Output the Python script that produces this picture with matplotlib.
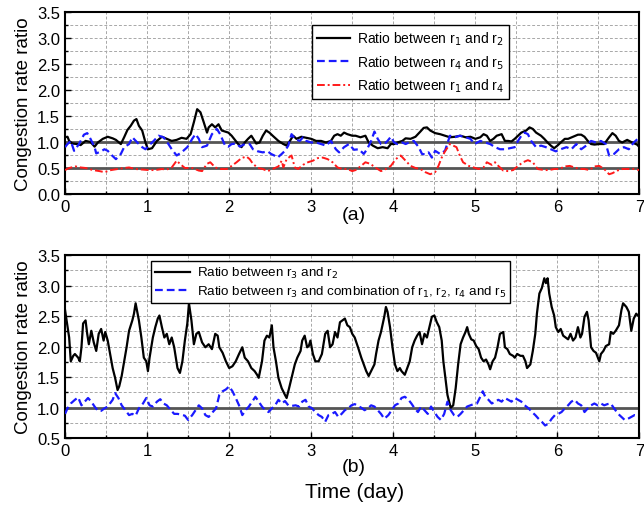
import matplotlib
matplotlib.use("Agg")
import matplotlib.pyplot as plt
from matplotlib.ticker import MultipleLocator

plt.rcParams['font.family'] = ['Liberation Sans', 'DejaVu Sans']

# ---- panel (a) ----
a12_t = [0.00, 0.03, 0.05, 0.09, 0.15, 0.19, 0.25, 0.31, 0.36, 0.40, 0.46, 0.52, 0.58, 0.62, 0.68,
         0.72, 0.76, 0.80, 0.84, 0.87, 0.90, 0.94, 0.98, 1.01, 1.06, 1.12, 1.18, 1.24, 1.30, 1.36,
         1.42, 1.48, 1.53, 1.57, 1.61, 1.65, 1.69, 1.73, 1.75, 1.79, 1.83, 1.87, 1.91, 1.95, 1.99,
         2.03, 2.07, 2.11, 2.15, 2.19, 2.23, 2.27, 2.33, 2.37, 2.41, 2.45, 2.49, 2.53, 2.60, 2.66,
         2.70, 2.74, 2.78, 2.82, 2.88, 2.94, 3.00, 3.06, 3.12, 3.18, 3.24, 3.28, 3.32, 3.36, 3.40,
         3.44, 3.50, 3.54, 3.60, 3.66, 3.70, 3.75, 3.81, 3.87, 3.93, 3.97, 4.01, 4.05, 4.11, 4.15,
         4.21, 4.27, 4.33, 4.37, 4.41, 4.45, 4.51, 4.57, 4.63, 4.69, 4.75, 4.82, 4.88, 4.94, 5.00,
         5.06, 5.10, 5.14, 5.18, 5.22, 5.26, 5.32, 5.36, 5.40, 5.44, 5.48, 5.52, 5.56, 5.62, 5.66,
         5.70, 5.74, 5.80, 5.84, 5.88, 5.92, 5.96, 6.00, 6.04, 6.09, 6.13, 6.19, 6.25, 6.29, 6.33,
         6.37, 6.41, 6.45, 6.51, 6.57, 6.63, 6.67, 6.71, 6.75, 6.79, 6.85, 6.91, 6.97, 7.00]
a12_v = [1.09, 1.10, 1.02, 0.97, 0.96, 0.94, 1.02, 1.00, 0.91, 0.99, 1.06, 1.10, 1.07, 1.04, 0.96,
         1.09, 1.23, 1.31, 1.41, 1.44, 1.31, 1.22, 0.99, 0.86, 0.88, 1.02, 1.10, 1.06, 1.02, 1.04,
         1.08, 1.06, 1.15, 1.38, 1.63, 1.57, 1.38, 1.18, 1.28, 1.34, 1.28, 1.34, 1.22, 1.20, 1.18,
         1.12, 1.04, 0.96, 0.90, 0.99, 1.06, 1.12, 0.97, 0.99, 1.12, 1.22, 1.18, 1.12, 1.02, 0.96,
         0.93, 1.02, 1.12, 1.06, 1.10, 1.08, 1.06, 1.02, 1.02, 0.99, 1.02, 1.12, 1.15, 1.12, 1.18,
         1.15, 1.12, 1.12, 1.09, 1.12, 0.99, 0.93, 0.88, 0.90, 0.88, 0.96, 0.96, 0.99, 1.02, 1.07,
         1.06, 1.10, 1.20, 1.27, 1.28, 1.22, 1.17, 1.15, 1.12, 1.09, 1.10, 1.12, 1.09, 1.10, 1.06,
         1.09, 1.15, 1.12, 1.02, 1.06, 1.12, 1.15, 1.02, 1.02, 1.01, 1.06, 1.12, 1.18, 1.22, 1.28,
         1.25, 1.18, 1.12, 1.06, 0.99, 0.93, 0.88, 0.93, 0.99, 1.06, 1.06, 1.10, 1.14, 1.14, 1.10,
         1.02, 0.96, 0.95, 0.96, 0.96, 1.09, 1.17, 1.12, 1.02, 0.99, 1.04, 0.99, 0.95, 0.90]

a45_t = [0.00, 0.03, 0.07, 0.11, 0.17, 0.23, 0.27, 0.31, 0.36, 0.38, 0.44, 0.48, 0.52, 0.56, 0.62,
         0.68, 0.72, 0.78, 0.82, 0.88, 0.94, 0.98, 1.02, 1.08, 1.14, 1.20, 1.26, 1.30, 1.36, 1.42,
         1.49, 1.55, 1.59, 1.63, 1.67, 1.73, 1.79, 1.85, 1.89, 1.95, 1.99, 2.03, 2.09, 2.13, 2.19,
         2.25, 2.29, 2.35, 2.41, 2.47, 2.51, 2.55, 2.59, 2.64, 2.68, 2.72, 2.76, 2.80, 2.86, 2.90,
         2.94, 3.00, 3.06, 3.12, 3.18, 3.24, 3.30, 3.34, 3.40, 3.46, 3.52, 3.58, 3.64, 3.68, 3.73,
         3.77, 3.81, 3.85, 3.89, 3.93, 3.97, 4.01, 4.05, 4.11, 4.15, 4.19, 4.25, 4.31, 4.35, 4.39,
         4.43, 4.47, 4.51, 4.57, 4.63, 4.69, 4.75, 4.81, 4.88, 4.94, 4.99, 5.06, 5.12, 5.18, 5.24,
         5.30, 5.36, 5.42, 5.48, 5.52, 5.56, 5.60, 5.64, 5.68, 5.74, 5.80, 5.86, 5.92, 5.98, 6.04,
         6.11, 6.17, 6.23, 6.29, 6.35, 6.41, 6.47, 6.53, 6.59, 6.63, 6.69, 6.75, 6.81, 6.87, 6.93,
         7.00]
a45_v = [0.90, 0.96, 1.02, 0.83, 0.96, 1.14, 1.17, 1.06, 0.90, 0.78, 0.82, 0.86, 0.83, 0.76, 0.67,
         0.77, 0.90, 0.96, 1.09, 0.99, 0.90, 0.86, 0.93, 1.02, 1.12, 1.09, 0.96, 0.86, 0.74, 0.80,
         0.90, 1.06, 1.15, 1.06, 0.90, 0.93, 1.15, 1.25, 1.15, 0.93, 0.91, 0.96, 0.97, 0.91, 0.96,
         0.96, 0.86, 0.82, 0.80, 0.82, 0.77, 0.74, 0.70, 0.77, 0.83, 0.93, 1.15, 1.06, 1.02, 1.09,
         1.02, 0.99, 0.99, 0.96, 0.93, 1.02, 0.86, 0.80, 0.90, 0.96, 0.85, 0.86, 0.77, 0.86, 1.02,
         1.20, 1.06, 0.96, 0.96, 1.02, 1.10, 0.99, 0.96, 0.99, 0.96, 0.99, 1.02, 0.90, 0.77, 0.76,
         0.80, 0.70, 0.83, 0.77, 0.83, 1.12, 1.09, 1.12, 1.09, 1.06, 0.96, 1.02, 0.99, 0.96, 0.90,
         0.86, 0.86, 0.88, 0.90, 1.02, 1.12, 1.18, 1.15, 1.02, 0.90, 0.93, 0.90, 0.86, 0.82, 0.86,
         0.90, 0.86, 0.96, 0.86, 0.93, 1.02, 0.99, 1.02, 0.96, 0.74, 0.77, 0.86, 0.90, 0.86, 0.99,
         1.09]

a14_t = [0.00, 0.05, 0.13, 0.19, 0.25, 0.34, 0.42, 0.48, 0.56, 0.64, 0.72, 0.78, 0.86, 0.94, 1.02,
         1.10, 1.18, 1.24, 1.30, 1.36, 1.40, 1.46, 1.55, 1.63, 1.67, 1.73, 1.77, 1.83, 1.89, 1.97,
         2.03, 2.09, 2.15, 2.21, 2.25, 2.29, 2.35, 2.41, 2.47, 2.53, 2.60, 2.64, 2.66, 2.70, 2.76,
         2.80, 2.84, 2.90, 2.96, 3.02, 3.08, 3.14, 3.20, 3.26, 3.32, 3.38, 3.44, 3.50, 3.54, 3.60,
         3.66, 3.72, 3.78, 3.85, 3.91, 3.97, 4.03, 4.09, 4.15, 4.21, 4.27, 4.33, 4.39, 4.45, 4.51,
         4.55, 4.59, 4.63, 4.69, 4.73, 4.77, 4.81, 4.85, 4.92, 4.98, 5.04, 5.10, 5.14, 5.20, 5.24,
         5.28, 5.34, 5.40, 5.46, 5.52, 5.58, 5.64, 5.70, 5.76, 5.84, 5.90, 5.96, 6.02, 6.09, 6.15,
         6.21, 6.27, 6.33, 6.39, 6.45, 6.51, 6.57, 6.63, 6.67, 6.73, 6.79, 6.85, 6.93, 7.00]
a14_v = [0.46, 0.50, 0.53, 0.51, 0.50, 0.46, 0.44, 0.42, 0.46, 0.48, 0.50, 0.51, 0.48, 0.47, 0.46,
         0.46, 0.48, 0.47, 0.51, 0.64, 0.58, 0.50, 0.50, 0.45, 0.44, 0.58, 0.61, 0.51, 0.48, 0.48,
         0.54, 0.61, 0.69, 0.72, 0.67, 0.58, 0.50, 0.48, 0.44, 0.48, 0.53, 0.64, 0.51, 0.67, 0.74,
         0.51, 0.48, 0.56, 0.61, 0.64, 0.69, 0.70, 0.67, 0.61, 0.51, 0.48, 0.48, 0.44, 0.46, 0.53,
         0.61, 0.58, 0.51, 0.44, 0.48, 0.54, 0.67, 0.74, 0.64, 0.54, 0.50, 0.48, 0.42, 0.38, 0.42,
         0.54, 0.70, 0.82, 0.96, 0.93, 0.90, 0.74, 0.61, 0.54, 0.51, 0.48, 0.51, 0.61, 0.56, 0.61,
         0.54, 0.45, 0.44, 0.46, 0.54, 0.61, 0.65, 0.61, 0.48, 0.46, 0.46, 0.48, 0.48, 0.53, 0.54,
         0.51, 0.48, 0.48, 0.46, 0.53, 0.54, 0.48, 0.38, 0.40, 0.45, 0.48, 0.48, 0.48, 0.46]

# ---- panel (b) ----
b32_t = [0.00, 0.01, 0.05, 0.07, 0.10, 0.12, 0.16, 0.18, 0.20, 0.22, 0.25, 0.27, 0.29, 0.32, 0.35,
         0.38, 0.41, 0.44, 0.47, 0.49, 0.52, 0.55, 0.58, 0.61, 0.64, 0.66, 0.69, 0.72, 0.75, 0.78,
         0.82, 0.84, 0.86, 0.90, 0.93, 0.96, 0.99, 1.01, 1.03, 1.07, 1.10, 1.13, 1.15, 1.18, 1.21,
         1.24, 1.27, 1.30, 1.33, 1.37, 1.40, 1.43, 1.46, 1.49, 1.51, 1.54, 1.57, 1.60, 1.63, 1.67,
         1.71, 1.75, 1.79, 1.83, 1.86, 1.88, 1.92, 1.96, 2.00, 2.04, 2.08, 2.12, 2.16, 2.19, 2.23,
         2.27, 2.31, 2.34, 2.36, 2.40, 2.43, 2.46, 2.49, 2.52, 2.54, 2.57, 2.60, 2.64, 2.68, 2.70,
         2.73, 2.76, 2.80, 2.83, 2.87, 2.89, 2.92, 2.95, 2.97, 2.99, 3.02, 3.05, 3.09, 3.13, 3.17,
         3.20, 3.23, 3.26, 3.29, 3.32, 3.35, 3.38, 3.41, 3.44, 3.47, 3.50, 3.53, 3.57, 3.61, 3.64,
         3.67, 3.70, 3.73, 3.77, 3.79, 3.82, 3.85, 3.89, 3.91, 3.93, 3.96, 3.98, 3.99, 4.02, 4.05,
         4.08, 4.10, 4.14, 4.17, 4.20, 4.23, 4.26, 4.29, 4.32, 4.35, 4.38, 4.41, 4.44, 4.47, 4.50,
         4.53, 4.56, 4.59, 4.61, 4.64, 4.66, 4.68, 4.70, 4.73, 4.76, 4.79, 4.82, 4.85, 4.88, 4.90,
         4.92, 4.95, 4.98, 5.01, 5.04, 5.07, 5.10, 5.13, 5.16, 5.18, 5.21, 5.24, 5.27, 5.30, 5.34,
         5.36, 5.39, 5.42, 5.46, 5.48, 5.51, 5.55, 5.58, 5.61, 5.63, 5.67, 5.70, 5.73, 5.75, 5.78,
         5.81, 5.84, 5.86, 5.88, 5.90, 5.93, 5.96, 5.98, 6.01, 6.04, 6.07, 6.10, 6.13, 6.16, 6.19,
         6.22, 6.25, 6.28, 6.30, 6.33, 6.36, 6.38, 6.41, 6.44, 6.47, 6.51, 6.53, 6.56, 6.59, 6.63,
         6.65, 6.68, 6.71, 6.75, 6.78, 6.80, 6.84, 6.87, 6.90, 6.93, 6.96, 6.98]
b32_v = [2.60, 2.51, 2.15, 1.76, 1.85, 1.88, 1.82, 1.76, 1.99, 2.38, 2.43, 2.21, 2.04, 2.26, 2.07,
         1.93, 2.21, 2.29, 2.10, 2.24, 2.10, 1.88, 1.65, 1.49, 1.29, 1.35, 1.52, 1.76, 1.99, 2.26,
         2.43, 2.54, 2.71, 2.43, 2.15, 1.82, 1.76, 1.60, 1.82, 2.15, 2.32, 2.46, 2.51, 2.32, 2.15,
         2.21, 2.04, 2.15, 1.99, 1.65, 1.57, 1.76, 2.10, 2.38, 2.71, 2.43, 2.04, 2.21, 2.24, 2.07,
         1.99, 2.04, 1.96, 2.21, 2.18, 1.99, 1.90, 1.76, 1.65, 1.68, 1.76, 1.88, 1.99, 1.82, 1.76,
         1.65, 1.60, 1.54, 1.49, 1.76, 2.10, 2.18, 2.15, 2.35, 1.99, 1.76, 1.49, 1.32, 1.21, 1.16,
         1.32, 1.49, 1.71, 1.82, 1.93, 2.10, 2.18, 1.99, 2.01, 2.10, 1.88, 1.76, 1.76, 1.88, 2.21,
         2.26, 1.99, 2.04, 2.24, 2.15, 2.40, 2.43, 2.46, 2.35, 2.32, 2.21, 2.15, 1.99, 1.82, 1.71,
         1.60, 1.52, 1.60, 1.71, 1.88, 2.10, 2.24, 2.49, 2.65, 2.57, 2.32, 2.10, 1.99, 1.71, 1.60,
         1.65, 1.60, 1.54, 1.65, 1.76, 1.99, 2.10, 2.18, 2.24, 2.04, 2.21, 2.15, 2.32, 2.49, 2.51,
         2.40, 2.32, 2.10, 1.76, 1.43, 1.21, 1.10, 1.00, 1.04, 1.32, 1.71, 2.04, 2.15, 2.24, 2.32,
         2.21, 2.12, 2.10, 2.01, 1.96, 1.82, 1.76, 1.79, 1.71, 1.63, 1.76, 1.82, 1.99, 2.21, 2.24,
         1.99, 1.96, 1.88, 1.85, 1.82, 1.88, 1.85, 1.85, 1.76, 1.65, 1.71, 1.93, 2.21, 2.54, 2.87,
         2.96, 3.12, 3.04, 3.12, 2.87, 2.65, 2.51, 2.32, 2.24, 2.29, 2.18, 2.15, 2.12, 2.21, 2.10,
         2.15, 2.32, 2.15, 2.21, 2.49, 2.57, 2.43, 1.99, 1.93, 1.90, 1.76, 1.88, 1.93, 2.01, 2.04,
         2.24, 2.21, 2.26, 2.35, 2.60, 2.71, 2.65, 2.57, 2.26, 2.46, 2.54, 2.51]

b3c_t = [0.00, 0.03, 0.07, 0.12, 0.16, 0.20, 0.24, 0.28, 0.32, 0.36, 0.40, 0.44, 0.48, 0.52, 0.58,
         0.61, 0.65, 0.69, 0.74, 0.78, 0.82, 0.86, 0.90, 0.95, 0.99, 1.03, 1.07, 1.12, 1.16, 1.20,
         1.24, 1.29, 1.33, 1.37, 1.41, 1.46, 1.50, 1.55, 1.59, 1.63, 1.67, 1.71, 1.75, 1.80, 1.84,
         1.88, 1.92, 1.96, 2.00, 2.04, 2.08, 2.12, 2.16, 2.20, 2.24, 2.28, 2.32, 2.36, 2.40, 2.44,
         2.48, 2.52, 2.56, 2.60, 2.64, 2.68, 2.72, 2.76, 2.81, 2.85, 2.89, 2.93, 2.97, 3.01, 3.05,
         3.09, 3.13, 3.17, 3.21, 3.25, 3.29, 3.33, 3.37, 3.41, 3.45, 3.49, 3.53, 3.57, 3.61, 3.65,
         3.69, 3.73, 3.77, 3.81, 3.85, 3.89, 3.94, 3.98, 4.02, 4.06, 4.10, 4.14, 4.18, 4.22, 4.26,
         4.30, 4.34, 4.38, 4.42, 4.46, 4.50, 4.54, 4.58, 4.62, 4.66, 4.70, 4.74, 4.78, 4.82, 4.86,
         4.90, 4.94, 4.98, 5.02, 5.06, 5.09, 5.12, 5.16, 5.20, 5.24, 5.28, 5.32, 5.36, 5.40, 5.44,
         5.48, 5.52, 5.56, 5.60, 5.65, 5.69, 5.73, 5.77, 5.81, 5.85, 5.89, 5.93, 5.97, 6.01, 6.05,
         6.09, 6.13, 6.17, 6.21, 6.25, 6.29, 6.33, 6.37, 6.41, 6.45, 6.49, 6.53, 6.57, 6.61, 6.65,
         6.69, 6.74, 6.78, 6.82, 6.86, 6.90, 6.94, 6.98]
b3c_v = [0.90, 0.99, 1.07, 1.13, 1.17, 1.04, 1.10, 1.16, 1.10, 1.02, 0.95, 0.95, 0.99, 1.02, 1.13,
         1.24, 1.16, 1.04, 0.95, 0.88, 0.90, 0.87, 0.99, 1.07, 1.16, 1.04, 1.02, 1.10, 1.14, 1.07,
         1.04, 0.96, 0.90, 0.90, 0.89, 0.87, 0.80, 0.88, 0.96, 1.04, 0.99, 0.88, 0.85, 0.93, 0.99,
         1.21, 1.27, 1.30, 1.35, 1.27, 1.16, 1.04, 0.88, 0.96, 1.02, 1.10, 1.18, 1.10, 1.02, 0.96,
         0.93, 0.99, 1.04, 1.13, 1.07, 1.11, 1.04, 1.03, 1.04, 1.02, 1.10, 1.13, 1.02, 0.99, 0.93,
         0.88, 0.85, 0.77, 0.88, 0.90, 0.93, 0.85, 0.90, 0.96, 0.99, 1.04, 1.06, 1.03, 1.00, 0.96,
         0.99, 1.04, 1.02, 0.96, 0.90, 0.82, 0.88, 0.96, 1.04, 1.07, 1.16, 1.18, 1.14, 1.07, 0.99,
         0.93, 1.02, 0.96, 0.90, 1.02, 0.93, 0.85, 0.80, 0.90, 1.10, 0.96, 0.88, 0.85, 0.90, 0.96,
         1.02, 1.04, 1.06, 1.07, 1.18, 1.27, 1.18, 1.13, 1.07, 1.10, 1.13, 1.10, 1.16, 1.13, 1.10,
         1.16, 1.13, 1.10, 1.04, 0.99, 0.93, 0.88, 0.82, 0.77, 0.71, 0.74, 0.82, 0.88, 0.90, 0.93,
         0.99, 1.04, 1.10, 1.13, 1.07, 1.04, 0.93, 0.99, 1.04, 1.07, 1.04, 1.07, 1.04, 1.06, 1.07,
         0.99, 0.90, 0.85, 0.80, 0.82, 0.85, 0.88, 0.87]

fig = plt.figure(figsize=(6.44, 5.06), dpi=100)
ax1 = fig.add_axes([0.101, 0.6146, 0.892, 0.360])
ax2 = fig.add_axes([0.101, 0.1318, 0.892, 0.3622])

ax1.plot(a12_t, a12_v, color='black', lw=1.6, label='Ratio between r$_1$ and r$_2$', zorder=3)
ax1.plot(a45_t, a45_v, color='#1a1aff', lw=1.6, dashes=(3.5, 1.8),
         label='Ratio between r$_4$ and r$_5$', zorder=3)
ax1.plot(a14_t, a14_v, color='#ff1a1a', lw=1.4, dashes=(4, 1.5, 1, 1.5),
         label='Ratio between r$_1$ and r$_4$', zorder=3)
for yref in (1.0, 0.5):
    ax1.axhline(yref, color='#555555', lw=2, zorder=2)
ax1.set_ylim(0, 3.5)

ax2.plot(b32_t, b32_v, color='black', lw=1.6, label='Ratio between r$_3$ and r$_2$', zorder=3)
ax2.plot(b3c_t, b3c_v, color='#1a1aff', lw=1.6, dashes=(3.5, 1.8),
         label='Ratio between r$_3$ and combination of r$_1$, r$_2$, r$_4$ and r$_5$', zorder=3)
ax2.axhline(1.0, color='#555555', lw=2, zorder=2)
ax2.set_ylim(0.5, 3.5)

for ax in (ax1, ax2):
    ax.set_xlim(0, 7)
    ax.xaxis.set_major_locator(MultipleLocator(1))
    ax.xaxis.set_minor_locator(MultipleLocator(0.5))
    ax.yaxis.set_major_locator(MultipleLocator(0.5))
    ax.yaxis.set_minor_locator(MultipleLocator(0.25))
    ax.grid(which='both', color='#a8a8a8', ls=(0, (3, 2)), lw=0.7, zorder=0)
    ax.tick_params(which='both', direction='in', labelsize=12, width=1)
    ax.tick_params(which='major', length=4)
    ax.tick_params(which='minor', length=2.5)
    for s in ax.spines.values():
        s.set_linewidth(1.5)
    ax.set_ylabel('Congestion rate ratio', fontsize=13.5, labelpad=4)
    ax.yaxis.set_major_formatter(plt.FuncFormatter(lambda v, p: f'{v:.1f}'))

leg1 = ax1.legend(loc='upper left', bbox_to_anchor=(0.43, 0.93), fontsize=10,
                  fancybox=False, edgecolor='black', framealpha=1, handlelength=2.4,
                  handletextpad=0.5, borderaxespad=0, labelspacing=0.45, borderpad=0.35)
leg1.get_frame().set_linewidth(1)
leg2 = ax2.legend(loc='upper left', bbox_to_anchor=(0.15, 0.966), fontsize=9.6,
                  fancybox=False, edgecolor='black', framealpha=1, handlelength=2.6,
                  handletextpad=0.5, borderaxespad=0, labelspacing=0.25, borderpad=0.3)
leg2.get_frame().set_linewidth(1)

fig.text(0.55, 0.575, '(a)', ha='center', va='center', fontsize=14)
fig.text(0.55, 0.077, '(b)', ha='center', va='center', fontsize=14)
fig.text(0.55, 0.026, 'Time (day)', ha='center', va='center', fontsize=15)

fig.savefig('out.png', dpi=100)
